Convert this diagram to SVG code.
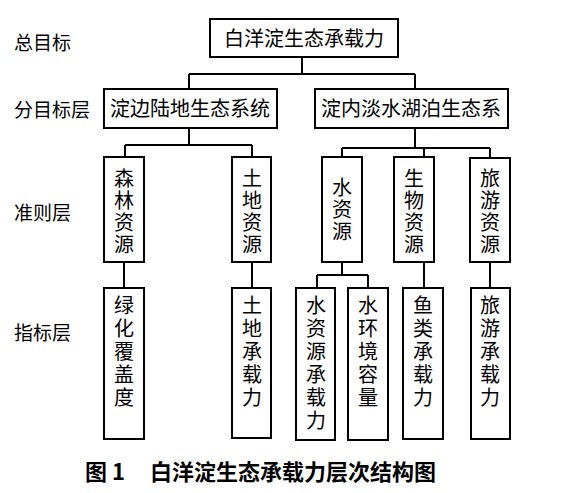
<svg xmlns="http://www.w3.org/2000/svg" width="562" height="493" viewBox="0 0 562 493">
<style>
.b{fill:#fff;stroke:#000;stroke-width:2}
.t{font-family:"Noto Sans CJK SC","Noto Sans",sans-serif;font-size:20px;fill:#000;text-anchor:middle}
.v{font-family:"Noto Sans CJK SC","Noto Sans",sans-serif;font-size:20px;fill:#000;writing-mode:vertical-rl;text-orientation:upright;letter-spacing:2px}
.v3{letter-spacing:3px}
.l{font-family:"Noto Sans CJK SC","Noto Sans",sans-serif;font-size:19px;fill:#000}
.c{stroke:#000;stroke-width:2;fill:none}
.cap{font-family:"Noto Sans CJK SC","Noto Sans",sans-serif;font-size:22px;font-weight:bold;fill:#000}
</style>
<rect width="562" height="493" fill="#fff"/>
<g id="labels">
<text class="l" x="14" y="50">总目标</text>
<text class="l" x="14" y="117">分目标层</text>
<text class="l" x="14" y="220">准则层</text>
<text class="l" x="14" y="340">指标层</text>
</g>
<g id="connectors">
<path class="c" d="M302 57V74M189 74H415M189 74V89M415 74V89"/>
<path class="c" d="M189 128V145M125 145H252M125 145V157M252 145V157"/>
<path class="c" d="M415 128V148M342 148H490M342 148V157M424 148V157M490 148V158"/>
<path class="c" d="M124 262V288M252 262V288M424 262V288M490 262V288"/>
<path class="c" d="M342 262V275M317 275H368M317 275V288M368 275V288"/>
</g>
<g id="n0"><rect class="b" x="210" y="19" width="188" height="38"/><text class="t" x="304" y="46">白洋淀生态承载力</text></g>
<g id="n1"><rect class="b" x="104" y="89" width="173" height="39"/><text class="t" x="190" y="116">淀边陆地生态系统</text></g>
<g id="n2"><rect class="b" x="315" y="89" width="193" height="39"/><text class="t" x="411" y="116">淀内淡水湖泊生态系</text></g>
<g id="n3"><rect class="b" x="104" y="157" width="40" height="105"/><text class="v" x="124" y="168">森林资源</text></g>
<g id="n4"><rect class="b" x="232" y="157" width="39" height="105"/><text class="v" x="252" y="168">土地资源</text></g>
<g id="n5"><rect class="b" x="322" y="157" width="40" height="105"/><text class="v" x="342" y="177">水资源</text></g>
<g id="n6"><rect class="b" x="394" y="157" width="40" height="105"/><text class="v" x="414" y="168">生物资源</text></g>
<g id="n7"><rect class="b" x="470" y="158" width="40" height="104"/><text class="v" x="490" y="168">旅游资源</text></g>
<g id="n8"><rect class="b" x="104" y="288" width="40" height="151"/><text class="v v3" x="124" y="295">绿化覆盖度</text></g>
<g id="n9"><rect class="b" x="232" y="288" width="39" height="150"/><text class="v v3" x="252" y="295">土地承载力</text></g>
<g id="n10"><rect class="b" x="296" y="288" width="39" height="152"/><text class="v v3" x="316" y="295">水资源承载力</text></g>
<g id="n11"><rect class="b" x="348" y="288" width="40" height="152"/><text class="v v3" x="368" y="295">水环境容量</text></g>
<g id="n12"><rect class="b" x="403" y="288" width="40" height="151"/><text class="v v3" x="423" y="295">鱼类承载力</text></g>
<g id="n13"><rect class="b" x="471" y="288" width="39" height="151"/><text class="v v3" x="490" y="295">旅游承载力</text></g>
<g id="caption">
<text class="cap" x="85" y="480">图 1</text>
<text class="cap" x="150" y="480">白洋淀生态承载力层次结构图</text>
</g>
</svg>
